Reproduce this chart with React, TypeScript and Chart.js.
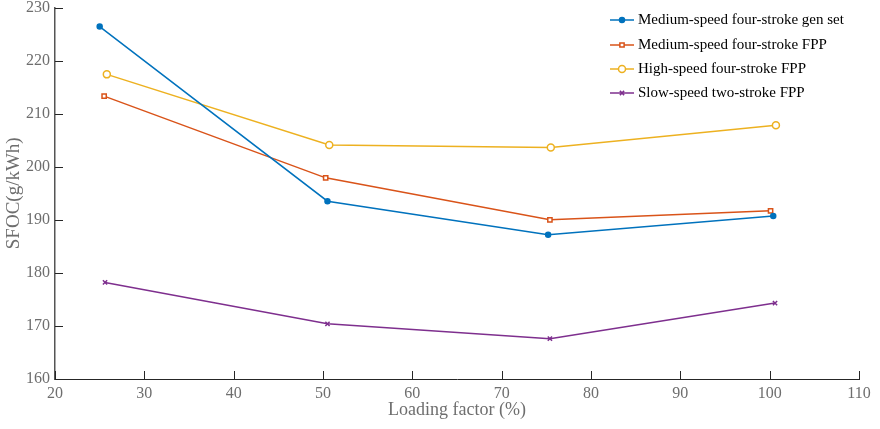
import React, { useEffect, useRef } from "react";
import { Chart, registerables } from "chart.js";

Chart.register(...registerables);

const seriesNames = [
  "Medium-speed four-stroke gen set",
  "Medium-speed four-stroke FPP",
  "High-speed four-stroke FPP",
  "Slow-speed two-stroke FPP",
];
const genSetX = [25.0, 50.5, 75.2, 100.4];
const genSetY = [226.4, 193.5, 187.2, 190.7];
const mediumFppX = [25.5, 50.3, 75.4, 100.1];
const mediumFppY = [213.3, 197.9, 190.0, 191.7];
const highFppX = [25.8, 50.7, 75.5, 100.7];
const highFppY = [217.4, 204.1, 203.6, 207.8];
const slowFppX = [25.6, 50.5, 75.4, 100.6];
const slowFppY = [178.2, 170.4, 167.6, 174.3];
const xTicks = [20, 30, 40, 50, 60, 70, 80, 90, 100, 110];
const yTicks = [160, 170, 180, 190, 200, 210, 220, 230];

const colors = ["#0072BD", "#D95319", "#EDB120", "#7E2F8E"];
const pointStyles = ["circle", "rect", "circle", "crossRot"];
const pointRadii = [2.5, 3, 3.5, 3];
const pointFills = ["#0072BD", "#ffffff", "#ffffff", "#7E2F8E"];

const FONT = "'Liberation Serif', 'DejaVu Serif', serif";

function zip(xs: number[], ys: number[]) {
  return xs.map((x, i) => ({ x, y: ys[i] }));
}

function drawMarker(ctx: CanvasRenderingContext2D, i: number, x: number, y: number) {
  const r = pointRadii[i];
  ctx.save();
  ctx.strokeStyle = colors[i];
  ctx.fillStyle = pointFills[i];
  ctx.lineWidth = 1.5;
  const style = pointStyles[i];
  ctx.beginPath();
  if (style === "circle") {
    ctx.arc(x, y, r, 0, Math.PI * 2);
    ctx.fill();
    ctx.stroke();
  } else if (style === "rect") {
    const s = r * Math.SQRT1_2;
    ctx.rect(x - s, y - s, 2 * s, 2 * s);
    ctx.fill();
    ctx.stroke();
  } else {
    const s = r * Math.SQRT1_2;
    ctx.moveTo(x - s, y - s);
    ctx.lineTo(x + s, y + s);
    ctx.moveTo(x + s, y - s);
    ctx.lineTo(x - s, y + s);
    ctx.stroke();
  }
  ctx.restore();
}

const innerTicks = {
  id: "innerTicks",
  afterDraw(chart: any) {
    const { ctx, chartArea, scales } = chart;
    ctx.save();
    ctx.strokeStyle = "#262626";
    ctx.lineWidth = 1;
    const len = 8;
    xTicks.forEach((v) => {
      const px = Math.round(scales.x.getPixelForValue(v)) + 0.5;
      ctx.beginPath();
      ctx.moveTo(px, chartArea.bottom);
      ctx.lineTo(px, chartArea.bottom - len);
      ctx.stroke();
    });
    yTicks.forEach((v) => {
      const py = Math.round(scales.y.getPixelForValue(v)) + 0.5;
      ctx.beginPath();
      ctx.moveTo(chartArea.left, py);
      ctx.lineTo(chartArea.left + len, py);
      ctx.stroke();
    });
    ctx.restore();
  },
};

const customLegend = {
  id: "customLegend",
  afterDraw(chart: any) {
    const { ctx } = chart;
    ctx.save();
    const x0 = 610;
    const x1 = 634;
    const ys = [20, 45, 69, 93];
    ctx.font = `15px ${FONT}`;
    ctx.textBaseline = "middle";
    ctx.textAlign = "left";
    seriesNames.forEach((name, i) => {
      const y = ys[i];
      ctx.strokeStyle = colors[i];
      ctx.lineWidth = 1.5;
      ctx.beginPath();
      ctx.moveTo(x0, y);
      ctx.lineTo(x1, y);
      ctx.stroke();
      drawMarker(ctx, i, (x0 + x1) / 2, y);
      ctx.fillStyle = "#000000";
      ctx.fillText(name, x1 + 4, y);
    });
    ctx.restore();
  },
};

export default function App() {
  const ref = useRef<HTMLCanvasElement | null>(null);
  useEffect(() => {
    if (!ref.current) return;
    const xs = [genSetX, mediumFppX, highFppX, slowFppX];
    const ysAll = [genSetY, mediumFppY, highFppY, slowFppY];
    const chart = new Chart(ref.current, {
      type: "line",
      data: {
        datasets: seriesNames.map((name, i) => ({
          label: name,
          data: zip(xs[i], ysAll[i]),
          borderColor: colors[i],
          backgroundColor: pointFills[i],
          borderWidth: 1.5,
          pointStyle: pointStyles[i] as any,
          pointRadius: pointRadii[i],
          pointBorderWidth: 1.5,
          pointBorderColor: colors[i],
          pointBackgroundColor: pointFills[i],
          tension: 0,
          fill: false,
          clip: false as any,
        })),
      },
      options: {
        animation: false,
        responsive: false,
        maintainAspectRatio: false,
        layout: { padding: { top: 7.5, right: 21, left: 0, bottom: 8 } },
        plugins: {
          legend: { display: false },
          tooltip: { enabled: false },
        },
        scales: {
          x: {
            type: "linear",
            min: 20,
            max: 110,
            afterBuildTicks: (s: any) => {
              s.ticks = xTicks.map((v) => ({ value: v }));
            },
            afterFit: (s: any) => {
              s.height = 42;
              s.paddingLeft = 0;
              s.paddingRight = 0;
            },
            grid: { display: true, drawOnChartArea: false, drawTicks: false },
            border: { display: true, color: "#262626", width: 1 },
            ticks: {
              color: "#6e6e6e",
              font: { family: FONT, size: 16 },
              padding: 5,
              maxRotation: 0,
            },
            title: {
              display: true,
              text: "Loading factor (%)",
              color: "#6e6e6e",
              font: { family: FONT, size: 18 },
              padding: { top: 0, bottom: 0 },
            },
          },
          y: {
            type: "linear",
            min: 160,
            max: 230,
            afterBuildTicks: (s: any) => {
              s.ticks = yTicks.map((v) => ({ value: v }));
            },
            afterFit: (s: any) => {
              s.width = 55;
              s.paddingTop = 0;
              s.paddingBottom = 0;
            },
            grid: { display: true, drawOnChartArea: false, drawTicks: false },
            border: { display: true, color: "#555555", width: 1.5 },
            ticks: {
              color: "#6e6e6e",
              font: { family: FONT, size: 16 },
              padding: 5,
            },
            title: {
              display: true,
              text: "SFOC(g/kWh)",
              color: "#6e6e6e",
              font: { family: FONT, size: 19 },
              padding: { top: 3, bottom: 0 },
            },
          },
        },
      },
      plugins: [innerTicks, customLegend],
    });
    return () => chart.destroy();
  }, []);
  return (
    <div style={{ position: "absolute", left: 0, top: 0, width: 880, height: 429, background: "#fff" }}>
      <canvas ref={ref} width={880} height={429} style={{ width: 880, height: 429, display: "block" }} />
    </div>
  );
}
